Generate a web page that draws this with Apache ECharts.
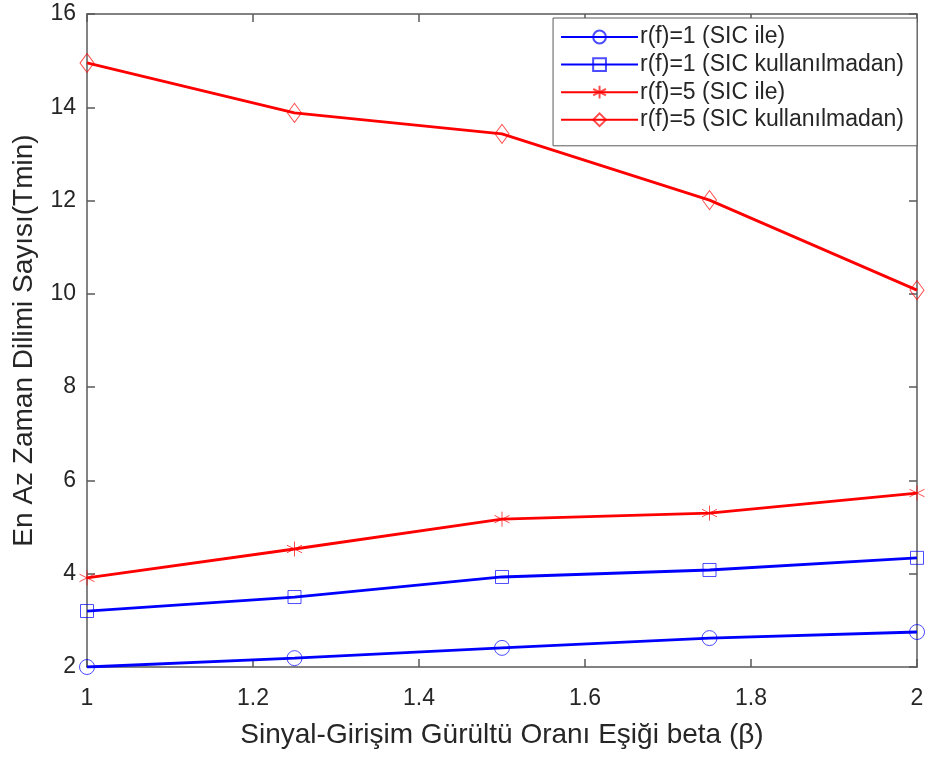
<!DOCTYPE html>
<html><head><meta charset="utf-8">
<script src="https://cdn.jsdelivr.net/npm/echarts@6/dist/echarts.min.js"></script>
<style>html,body{margin:0;padding:0;background:#fff}#c{width:929px;height:758px}</style>
</head><body><div id="c"></div>
<script>
const xValues = [1, 1.25, 1.5, 1.75, 2];
const r1WithSIC = [2.0, 2.19, 2.41, 2.62, 2.75];
const r1WithoutSIC = [3.20, 3.50, 3.93, 4.08, 4.34];
const r5WithSIC = [3.91, 4.53, 5.17, 5.30, 5.73];
const r5WithoutSIC = [14.95, 13.88, 13.43, 12.01, 10.08];
const seriesNames = ['r(f)=1 (SIC ile)', 'r(f)=1 (SIC kullanılmadan)', 'r(f)=5 (SIC ile)', 'r(f)=5 (SIC kullanılmadan)'];
const xTitle = 'Sinyal-Girişim Gürültü Oranı Eşiği beta (β)';
const yTitle = 'En Az Zaman Dilimi Sayısı(Tmin)';

const FONT = '"Liberation Sans", Arial, sans-serif';
const AX = '#5a5a5a';
const TXT = '#262626';
const star = 'path://M0,-1L0,1M-0.866,-0.5L0.866,0.5M-0.866,0.5L0.866,-0.5';

function mk(name, data, color, symbol, size) {
  return {
    name: name, type: 'line',
    data: xValues.map((x, i) => [x, data[i]]),
    symbol: symbol, symbolSize: size, showSymbol: true,
    lineStyle: {color: color, width: 2.8},
    itemStyle: {color: 'rgba(0,0,0,0)', borderColor: color, borderWidth: 1, opacity: 0.7},
    emphasis: {disabled: true},
    animation: false, z: 3
  };
}

const chart = echarts.init(document.getElementById('c'), null, {renderer: 'canvas'});
chart.setOption({
  backgroundColor: '#fff',
  animation: false,
  textStyle: {fontFamily: FONT},
  grid: {left: 87, right: 12, top: 14, bottom: 91, containLabel: false},
  legend: {
    orient: 'vertical', right: 12, top: 18,
    data: seriesNames,
    itemWidth: 77, itemHeight: 16, itemGap: 3.6,
    backgroundColor: '#fff', borderColor: AX, borderWidth: 1,
    padding: [7, 13, 14, 7],
    textStyle: {fontFamily: FONT, fontSize: 23, lineHeight: 24, color: TXT, padding: [0, 0, 0, -3]},
    selectedMode: false
  },
  xAxis: [{
    type: 'value', min: 1, max: 2, interval: 0.2,
    name: xTitle, nameLocation: 'middle', nameGap: 54,
    nameTextStyle: {fontFamily: FONT, fontSize: 28, color: TXT},
    axisLine: {show: true, lineStyle: {color: AX, width: 1.5}},
    axisTick: {show: true, inside: true, length: 8, lineStyle: {color: AX, width: 1.5}},
    axisLabel: {fontFamily: FONT, fontSize: 23, color: TXT, margin: 20},
    splitLine: {show: false}
  }, {
    type: 'value', min: 1, max: 2, interval: 0.2, position: 'top',
    axisLine: {show: true, lineStyle: {color: AX, width: 1.5}},
    axisTick: {show: true, inside: true, length: 8, lineStyle: {color: AX, width: 1.5}},
    axisLabel: {show: false}, splitLine: {show: false}
  }],
  yAxis: [{
    type: 'value', min: 2, max: 16, interval: 2,
    name: yTitle, nameLocation: 'middle', nameGap: 49,
    nameTextStyle: {fontFamily: FONT, fontSize: 28, color: TXT},
    axisLine: {show: true, lineStyle: {color: AX, width: 1.5}},
    axisTick: {show: true, inside: true, length: 8, lineStyle: {color: AX, width: 1.5}},
    axisLabel: {fontFamily: FONT, fontSize: 23, color: TXT, margin: 11},
    splitLine: {show: false}
  }, {
    type: 'value', min: 2, max: 16, interval: 2, position: 'right',
    axisLine: {show: true, lineStyle: {color: AX, width: 1.5}},
    axisTick: {show: true, inside: true, length: 8, lineStyle: {color: AX, width: 1.5}},
    axisLabel: {show: false}, splitLine: {show: false}
  }],
  series: [
    mk(seriesNames[0], r1WithSIC, '#0000ff', 'circle', 15),
    mk(seriesNames[1], r1WithoutSIC, '#0000ff', 'rect', 13),
    mk(seriesNames[2], r5WithSIC, '#ff0000', star, 15),
    mk(seriesNames[3], r5WithoutSIC, '#ff0000', 'diamond', [14, 19])
  ]
});
</script></body></html>
